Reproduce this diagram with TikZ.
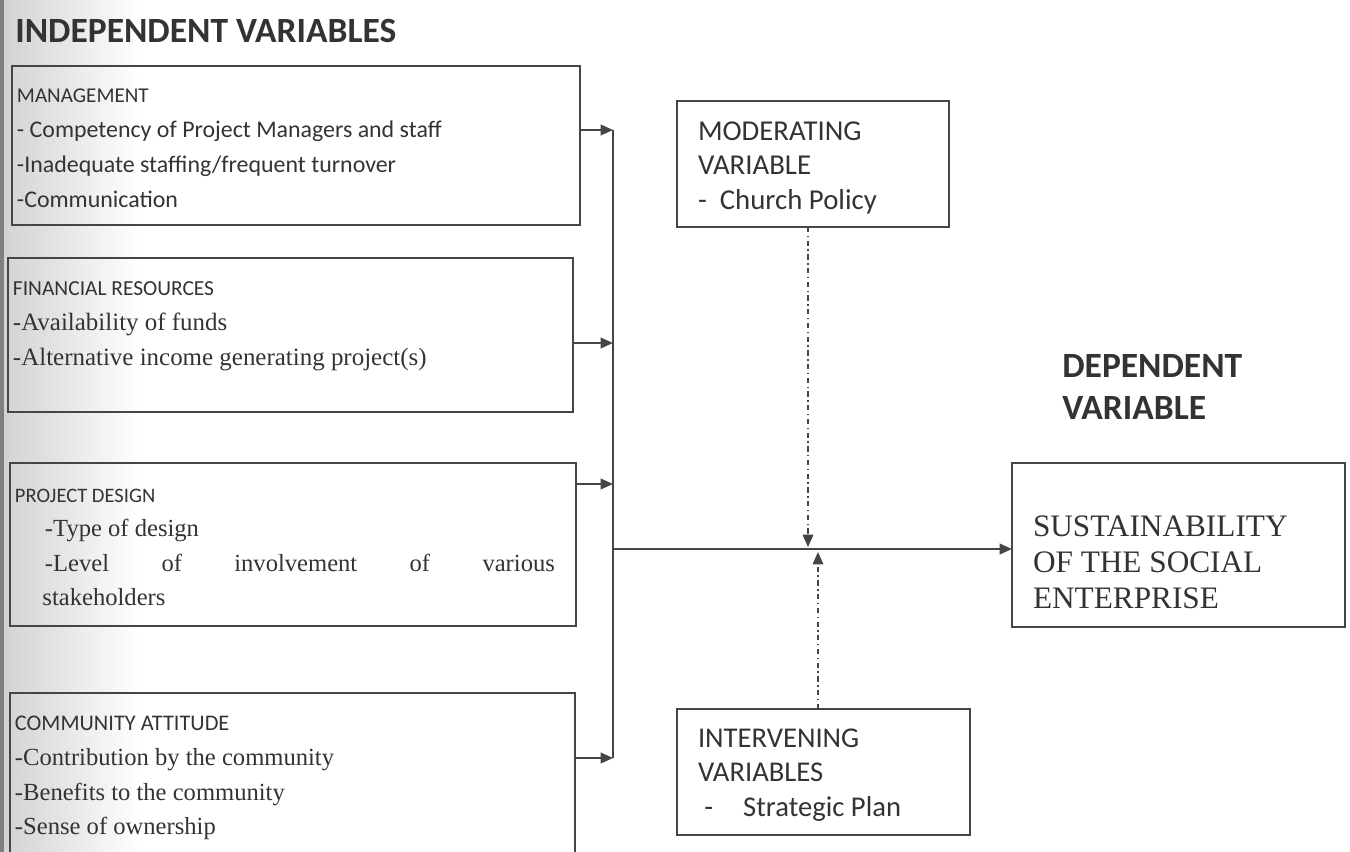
\documentclass[tikz,border=0pt]{standalone}
\usepackage{fontspec}
\setmainfont{Liberation Serif}
\newfontfamily\calfont{Carlito}
\usepackage{tikz}
\usetikzlibrary{arrows.meta, calc, positioning}

\definecolor{ink}{HTML}{333333}
\definecolor{linegray}{HTML}{454545}

\tikzset{
  varbox/.style={draw=linegray, line width=1.1pt, anchor=north west, align=flush left,
                 inner xsep=0.1cm, inner ysep=0pt, outer sep=0pt, text=ink},
  hdr/.style={anchor=north west, inner sep=0pt, text=ink, align=flush left,
              font=\calfont\bfseries\fontsize{20.2}{24}\selectfont},
  flow/.style={draw=linegray, line width=1.1pt},
  dashflow/.style={draw=linegray, line width=0.8pt, dash dot},
}
\newcommand{\boxhead}[2]{{\calfont\fontsize{#1}{19.8}\selectfont #2}}

\begin{document}
\begin{tikzpicture}[x=0.02cm, y=-0.02cm, >={Triangle[length=7pt,width=6pt]}]
	\useasboundingbox (0,0) rectangle (1350,852);
	% scanner shadow on the left edge
	\shade[left color=black!18, right color=white] (0,0) rectangle (140,852);
	\fill[black!50] (0,0) rectangle (4,852);

	% independent variables
	\node[hdr] (indep) at (15,19) {INDEPENDENT VARIABLES};

	\node[varbox, text width=11.16cm, minimum height=3.18cm,
	      font=\calfont\fontsize{13.6}{19.8}\selectfont] (mgmt) at (12,66)
		{\rule{0pt}{11pt}\boxhead{12}{MANAGEMENT}\\
		 - Competency of Project Managers and staff\\
		 -Inadequate staffing/frequent turnover\\
		 -Communication};

	\node[varbox, text width=11.1cm, minimum height=3.08cm,
	      font=\fontsize{14.2}{19.8}\selectfont] (fin) at (8,258)
		{\boxhead{12.2}{FINANCIAL RESOURCES}\\
		 -Availability of funds\\
		 -Alternative income generating project(s)\rule[-13pt]{0pt}{13pt}};

	\node[varbox, text width=11.12cm, minimum height=3.26cm,
	      font=\fontsize{14}{19.6}\selectfont] (design) at (10,463)
		{\rule{0pt}{11pt}\boxhead{11.7}{PROJECT DESIGN}\\
		 \hspace{0.6cm}-Type of design\\
		 \hspace{0.6cm}\makebox[10.2cm]{-Level\hfill of\hfill involvement\hfill of\hfill various}\\
		 \hspace{0.55cm}stakeholders};

	\node[varbox, text width=11.1cm, minimum height=3.4cm,
	      font=\fontsize{14}{19.8}\selectfont] (comm) at (10,693)
		{\boxhead{12.7}{COMMUNITY ATTITUDE}\\
		 -Contribution by the community\\
		 -Benefits to the community\\
		 -Sense of ownership};

	% moderating and intervening variables
	\node[varbox, inner xsep=0.42cm, text width=4.6cm, minimum height=2.52cm,
	      font=\calfont\fontsize{16.4}{19.8}\selectfont] (mod) at (677,101)
		{\rule{0pt}{15pt}MODERATING\\ VARIABLE\\ -\ \ Church Policy};

	\node[varbox, inner xsep=0.42cm, text width=5.02cm, minimum height=2.52cm,
	      font=\calfont\fontsize{16.3}{19.8}\selectfont] (inter) at (677,709)
		{\rule{0pt}{14pt}INTERVENING\\ VARIABLES\\ \ -\hspace{0.6cm}Strategic Plan};

	% dependent variable
	\node[hdr] (dep) at (1062,354) {DEPENDENT\\ VARIABLE};

	\node[varbox, inner xsep=0.42cm, text width=5.82cm, minimum height=3.28cm,
	      font=\fontsize{17.8}{20.5}\selectfont] (sust) at (1012,463)
		{\rule{0pt}{1.1cm}SUSTAINABILITY\\ OF THE SOCIAL\\ ENTERPRISE};

	% collecting line
	\coordinate (b1) at (613,130);
	\coordinate (b2) at (613,343);
	\coordinate (b3) at (613,484);
	\coordinate (b4) at (613,758);
	\coordinate (hub) at (613,549);
	\coordinate (modtip) at (808,547);
	\coordinate (inttip) at (818,552);

	\draw[flow,->] (mgmt.east |- b1) -- (b1);
	\draw[flow,->] (fin.east |- b2) -- (b2);
	\draw[flow,->] (design.east |- b3) -- (b3);
	\draw[flow,->] (comm.east |- b4) -- (b4);
	\draw[flow] (b1) -- (b4);
	\draw[flow,->] (hub) -- (sust.west |- hub);

	\draw[dashflow,->] (mod.south -| modtip) -- (modtip);
	\draw[dashflow,->] (inter.north -| inttip) -- (inttip);
\end{tikzpicture}
\end{document}
